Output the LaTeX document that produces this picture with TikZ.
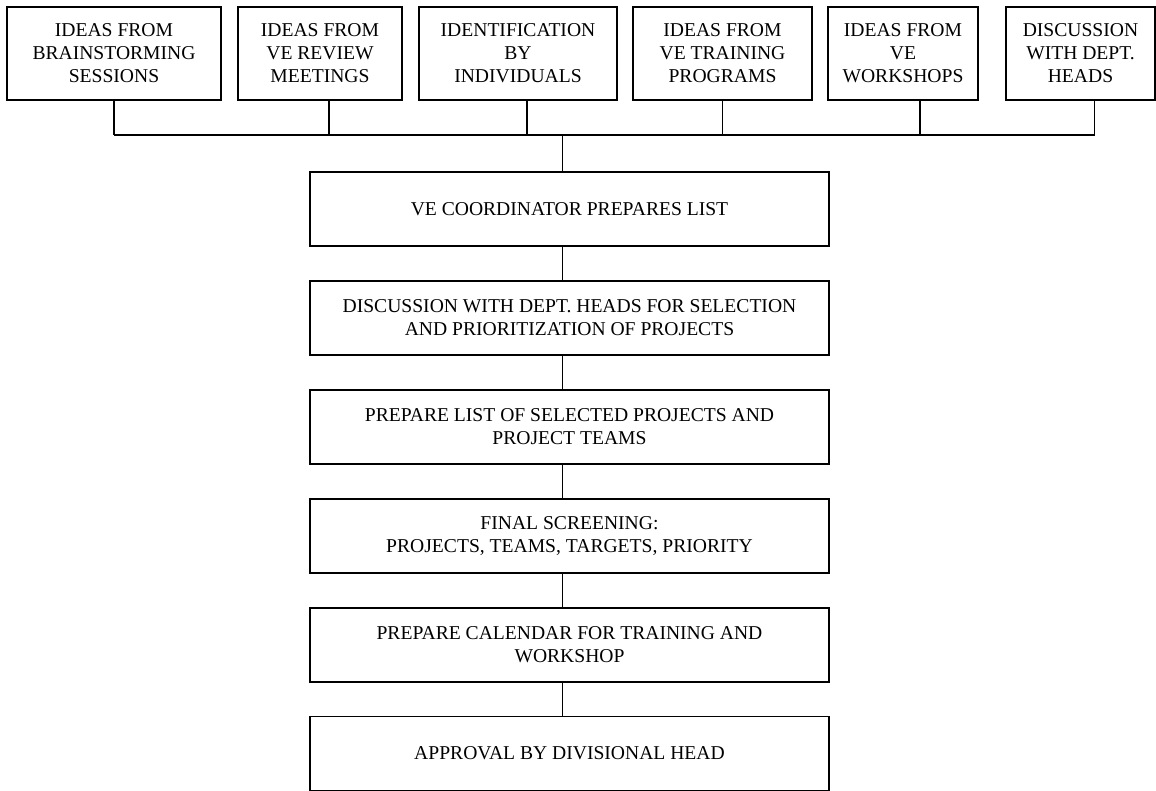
\documentclass[tikz,border=0pt]{standalone}
\usepackage{fontspec}
\setmainfont{Liberation Serif}
\tikzset{
  src/.style={draw, align=center, inner sep=0pt, minimum height=93pt},
  stage/.style={draw, align=center, inner sep=0pt, minimum width=519pt, minimum height=74pt},
}
\begin{document}
\begin{tikzpicture}[x=1pt,y=1pt,line width=1.6pt,font=\fontsize{19.6}{23}\selectfont]
  \useasboundingbox (0,0) rectangle (1156,791);
  \node [src, minimum width=214pt] (S1) at (114,737.5) {IDEAS FROM\\BRAINSTORMING\\SESSIONS};
  \node [src, minimum width=164pt] (S2) at (320,737.5) {IDEAS FROM\\VE REVIEW\\MEETINGS};
  \node [src, minimum width=198pt] (S3) at (518,737.5) {IDENTIFICATION\\BY\\INDIVIDUALS};
  \node [src, minimum width=179pt] (S4) at (722.5,737.5) {IDEAS FROM\\VE TRAINING\\PROGRAMS};
  \node [src, minimum width=150pt] (S5) at (903,737.5) {IDEAS FROM\\VE\\WORKSHOPS};
  \node [src, minimum width=149pt] (S6) at (1080.5,737.5) {DISCUSSION\\WITH DEPT.\\HEADS};
  
  \coordinate (J) at (562.5,656);
  \draw (S1.south) -- (S1.south |- J);
  \draw ([xshift=9pt]S2.south) -- ([xshift=9pt]S2.south |- J);
  \draw ([xshift=9pt]S3.south) -- ([xshift=9pt]S3.south |- J);
  \draw (S4.south) -- (S4.south |- J);
  \draw ([xshift=17pt]S5.south) -- ([xshift=17pt]S5.south |- J);
  \draw ([xshift=14pt]S6.south) -- ([xshift=14pt]S6.south |- J);
  \draw (S1.south |- J) -- ([xshift=14pt]S6.south |- J);

  \node [stage] (P1) at (569.5,582) {VE COORDINATOR PREPARES LIST};
  \node [stage] (P2) at (569.5,473) {DISCUSSION WITH DEPT. HEADS FOR SELECTION\\AND PRIORITIZATION OF PROJECTS};
  \node [stage] (P3) at (569.5,364) {PREPARE LIST OF SELECTED PROJECTS AND\\PROJECT TEAMS};
  \node [stage] (P4) at (569.5,255) {FINAL SCREENING:\\PROJECTS, TEAMS, TARGETS, PRIORITY};
  \node [stage] (P5) at (569.5,146) {PREPARE CALENDAR FOR TRAINING AND\\WORKSHOP};
  \node [stage] (P6) at (569.5,37.5) {APPROVAL BY DIVISIONAL HEAD};
  \draw (J) -- (J |- P1.north);
  \draw ([xshift=-7pt]P1.south) -- ([xshift=-7pt]P2.north);
  \draw ([xshift=-7pt]P2.south) -- ([xshift=-7pt]P3.north);
  \draw ([xshift=-7pt]P3.south) -- ([xshift=-7pt]P4.north);
  \draw ([xshift=-7pt]P4.south) -- ([xshift=-7pt]P5.north);
  \draw ([xshift=-7pt]P5.south) -- ([xshift=-7pt]P6.north);
\end{tikzpicture}
\end{document}
